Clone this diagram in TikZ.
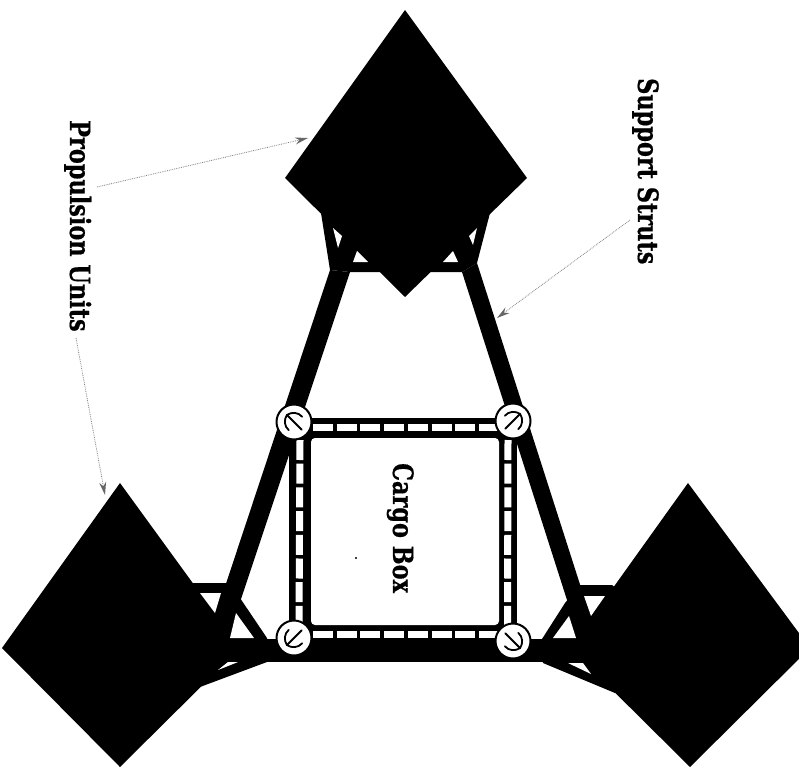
\documentclass[tikz,border=0pt]{standalone}
\usepackage{fontspec}
\setmainfont[FakeStretch=0.8,BoldFeatures={FakeBold=0.6}]{DejaVu Serif}
\usetikzlibrary{arrows.meta}
\tikzset{
  x=1pt,y=-1pt,
  lbl/.style={rotate=-90,anchor=base west,inner sep=0pt,font=\fontsize{28}{28}\selectfont\bfseries},
  leader/.style={draw=black!50,line width=0.8pt,densely dotted,-{Stealth[length=13pt,width=7pt,fill=black!60,color=black!60,line width=0pt,sep=0pt]}},
  hub/.style={circle,draw=black,fill=white,line width=2pt,minimum size=35pt,inner sep=0pt},
  hubarrow/.style={line width=1.8pt,line cap=round},
  track/.style={draw=white,line width=7pt,dash pattern=on 20pt off 3.7pt},
  hole/.style={fill=white}
}
\begin{document}
\begin{tikzpicture}
\useasboundingbox (0,0) rectangle (799,767);
\clip (0,0) rectangle (799,767);
% propulsion units
\fill (405,10)--(527,178)--(405,297)--(285,178)--cycle;
\fill (120,483)--(240,648)--(120,767)--(2,648)--cycle;
\fill (688,483)--(810,648)--(690,767)--(570,648)--cycle;
% top mount
\fill (321,213)--(330,270)--(350,272)--(462,272)--(477,263)--(490,213)--cycle;
% long struts
\fill (330,270)--(350,272)--(224,650)--(204,650)--cycle;
\fill (477,263)--(462,272)--(583,650)--(601,650)--cycle;
% lower mounts
\fill (193,583)--(226,583)--(240,598)--(267,638)--(267,662)--(200,687)--(120,648)--cycle;
\fill (612,585)--(580,585)--(565,603)--(542,639)--(543,663)--(615,693)--(690,648)--cycle;
\fill (215,639) rectangle (590,662);
% frame
\fill (289,418) rectangle (517,640);
% openings
\fill[hole] (333,228)--(342,236)--(338,248)--cycle;
\fill[hole] (357,251)--(368,262)--(353,262)--cycle;
\fill[hole] (477,228)--(469,236)--(473,245)--cycle;
\fill[hole] (453,251)--(458,262)--(443,262)--cycle;
\fill[hole] (200,593)--(221,593)--(215,613)--cycle;
\fill[hole] (236,613)--(254,638)--(230,638)--cycle;
\fill[hole] (218,670)--(238,662)--(228,662)--cycle;
\fill[hole] (584,596)--(605,596)--(591,616)--cycle;
\fill[hole] (569,616)--(576,638)--(553,638)--cycle;
\fill[hole] (568,663)--(583,663)--(591,674)--cycle;
% tracks
\draw[track] (313,427.5) -- (505,427.5);
\draw[track] (313,634.5) -- (505,634.5);
\draw[track] (300,440) -- (299,625);
\draw[track] (508,440) -- (507.5,625);
% cargo box
\fill[white,rounded corners=4pt] (311,438) rectangle (499,625);
\node[lbl] (cargo) at (393,463) {Cargo Box};
\fill (356,558) circle (1.2);
% hubs
\node[hub] (hubTL) at (294,422) {};
\node[hub] (hubTR) at (513,421) {};
\node[hub] (hubBL) at (294,638) {};
\node[hub] (hubBR) at (513,641) {};
\foreach \h/\a in {hubTL/135,hubTR/45,hubBL/225,hubBR/-45}{
  \begin{scope}[shift={(\h)},rotate=\a]
    \draw[hubarrow] (-11,0)--(10,0);
    \draw[hubarrow] (-2,9.5) .. controls (4,10) and (9,5.5) .. (10,0) .. controls (9,-5.5) and (4,-10) .. (-2,-9.5);
  \end{scope}
}
% labels
\node[lbl] (prop) at (70,120) {Propulsion Units};
\node[lbl] (supp) at (638,78) {Support Struts};
\coordinate (propA) at (97,187);
\coordinate (propB) at (76,338);
\coordinate (suppA) at (630,220);
\coordinate (topTip) at (308,138);
\coordinate (leftTip) at (105,495);
\coordinate (strutTip) at (497,318);
\draw[leader] (propA) -- (topTip);
\draw[leader] (propB) -- (leftTip);
\draw[leader] (suppA) -- (strutTip);
\end{tikzpicture}
\end{document}
